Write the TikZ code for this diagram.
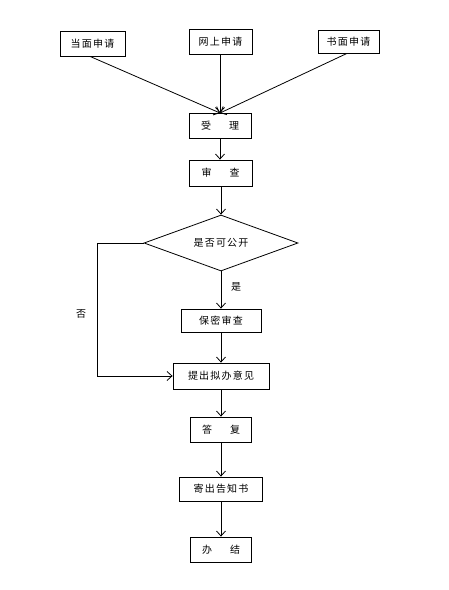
\documentclass[tikz,border=0pt]{standalone}
\usepackage{fontspec}
\newfontfamily\cjk[LetterSpace=12]{Noto Sans CJK SC}
\usetikzlibrary{arrows.meta,shapes.geometric}
\begin{document}
\begin{tikzpicture}[x=1pt,y=-1pt,
  box/.style={draw,line width=0.8pt,inner sep=0pt,font=\cjk\fontsize{10}{12}\selectfont},
  arr/.style={draw,line width=0.8pt,-{Straight Barb[length=5pt,width=9pt]}},
  lbl/.style={font=\cjk\fontsize{10}{12}\selectfont,inner sep=0pt}]
\useasboundingbox (0,0) rectangle (448,590);
\node[box,minimum width=65pt,minimum height=25pt] (a) at (92.5,43.5) {当面申请};
\node[box,minimum width=63pt,minimum height=25pt] (b) at (220.5,41.5) {网上申请};
\node[box,minimum width=61pt,minimum height=23pt] (c) at (348.5,41.5) {书面申请};
\node[box,minimum width=62pt,minimum height=25pt] (d) at (220,125.5) {受\hspace{1.8em}理};
\node[box,minimum width=63pt,minimum height=26pt] (e) at (220.5,173) {审\hspace{1.8em}查};
\node[box,shape=diamond,minimum width=154pt,minimum height=56pt,aspect=2.75] (f) at (221,243) {是否可公开};
\node[box,minimum width=80pt,minimum height=23pt] (g) at (221,320.5) {保密审查};
\node[box,minimum width=96pt,minimum height=26pt] (h) at (221,376) {提出拟办意见};
\node[box,minimum width=61pt,minimum height=25pt] (i) at (221,429.5) {答\hspace{1.8em}复};
\node[box,minimum width=83pt,minimum height=24pt] (j) at (221,489) {寄出告知书};
\node[box,minimum width=61pt,minimum height=25pt] (k) at (221,549.5) {办\hspace{1.8em}结};
\node[lbl] (yes) at (236,287) {是};
\node[lbl] (no) at (81,314) {否};
\coordinate (t) at (220,113);
\draw[arr] (a.south -| 90,0) -- (t);
\draw[arr] (b.south -| t) -- (t);
\draw[arr] (c.south -| 347,0) -- (t);
\draw[arr] (d.south -| t) -- (e.north -| t);
\draw[arr] (e.south -| f.north) -- (f.north);
\draw[arr] (f.south) -- (g.north -| f.south);
\draw[arr] (g) -- (h);
\coordinate (corner) at (97,243);
\draw[arr] (f.west) -- (corner) |- (h.west);
\draw[arr] (h) -- (i);
\draw[arr] (i) -- (j);
\draw[arr] (j) -- (k);
\end{tikzpicture}
\end{document}
